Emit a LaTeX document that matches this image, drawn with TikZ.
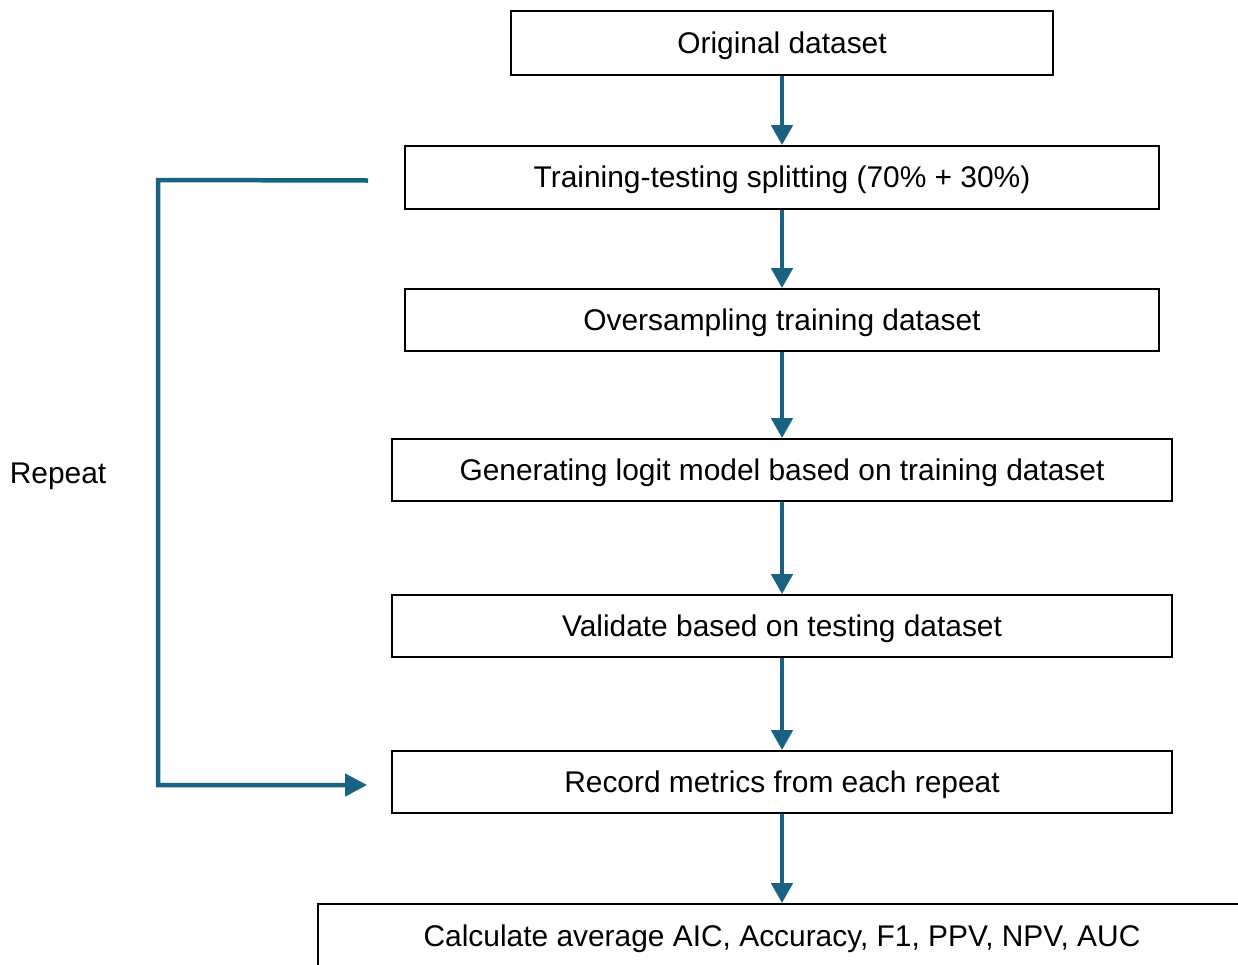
\documentclass[tikz,border=0pt]{standalone}
\usepackage{fontspec}
\setmainfont{Liberation Sans}
\usetikzlibrary{arrows.meta,calc}
\definecolor{flow}{RGB}{26,98,130}
\begin{document}
\begin{tikzpicture}[x=1pt,y=-1pt,
  box/.style={draw=black,line width=1.8pt,rectangle,inner sep=0pt,
    text height=27pt,text depth=6.5pt,
    font=\fontsize{29.9}{34}\selectfont},
  flowarrow/.style={draw=flow,line width=4.5pt,
    -{Triangle[width=21pt,length=20pt]}},
  loopline/.style={draw=flow,line width=4.5pt},
  lbl/.style={font=\fontsize{29.9}{34}\selectfont,inner sep=0pt}]
\useasboundingbox (0,0) rectangle (1238,964);
\clip (0,0) rectangle (1238,964);
\node[box,minimum width=542pt,minimum height=64pt] (n1) at (782,43) {Original dataset};
\node[box,minimum width=754pt,minimum height=63pt] (n2) at (782,177.5) {Training-testing splitting (70\% + 30\%)};
\node[box,minimum width=754pt,minimum height=62pt] (n3) at (782,320) {Oversampling training dataset};
\node[box,minimum width=780pt,minimum height=62pt] (n4) at (782,470) {Generating logit model based on training dataset};
\node[box,minimum width=780pt,minimum height=62pt] (n5) at (782,626) {Validate based on testing dataset};
\node[box,minimum width=780pt,minimum height=62pt] (n6) at (782,782) {Record metrics from each repeat};
\node[box,minimum width=928pt,minimum height=64pt] (n7) at (782,936) {Calculate average AIC, Accuracy, F1, PPV, NPV, AUC};
\node[lbl] (rep) at (58,476) {Repeat};
\draw[flowarrow] (n1.south) -- (n2.north);
\draw[flowarrow] (n2.south) -- (n3.north);
\draw[flowarrow] (n3.south) -- (n4.north);
\draw[flowarrow] (n4.south) -- (n5.north);
\draw[flowarrow] (n5.south) -- (n6.north);
\draw[flowarrow] (n6.south) -- (n7.north);
\coordinate (ls) at ($(n2.west)+(-36,3)$);
\coordinate (le) at ($(n6.west)+(-24,3)$);
\draw[loopline,-{Triangle[width=22pt,length=22pt]}] (ls) -- (158,180) -- (158,785) -- (le);
\end{tikzpicture}
\end{document}
